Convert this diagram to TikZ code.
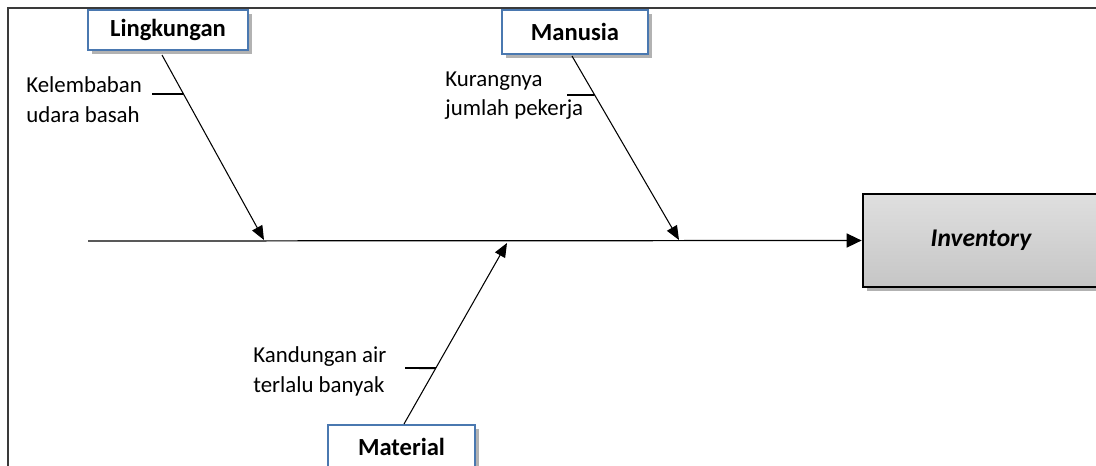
\documentclass[tikz,border=0pt]{standalone}
\usepackage{fontspec}
\setmainfont{Carlito}
\usetikzlibrary{arrows.meta,shadows,calc}
\tikzset{
  catbox/.style = {draw = boxblue, line width = 1.2pt, fill = white, font = \bfseries\fontsize{14}{16}\selectfont,
    drop shadow = {shadow xshift = 2pt, shadow yshift = -2pt, fill = black, opacity = 0.3}},
  causetxt/.style = {anchor = north west, inner sep = 0pt, align = left, font = \fontsize{13}{17}\selectfont},
  bone/.style = {line width = 0.6pt, -{Triangle[length = 8pt, width = 6.5pt]}},
  tick/.style = {line width = 1.1pt}
}
\begin{document}
\begin{tikzpicture}[x = 0.02cm, y = -0.02cm]
\definecolor{boxblue}{HTML}{4A78B0}
\definecolor{frame}{HTML}{3A3A3A}
\useasboundingbox (0, 0) rectangle (1096, 466);
\draw[frame, line width = 0.6pt] (1096, 8) -- (8, 8) -- (8, 466);
% effect box
\node[draw = black, line width = 1.6pt, top color = gray!25, bottom color = gray!45, minimum width = 4.72cm, minimum height = 1.86cm,
  drop shadow = {shadow xshift = 2pt, shadow yshift = -2pt, fill = black, opacity = 0.3},
  font = \bfseries\itshape\fontsize{14.5}{16}\selectfont] (inv) at (981, 240.5) {Inventory};
% spine
\coordinate (tail) at (88, 241);
\draw[line width = 0.7pt, -{Triangle[length = 8.5pt, width = 8pt]}] (tail) -- (inv.west);
% categories
\node[catbox, minimum width = 3.2cm, minimum height = 0.8cm] (ling) at (168, 30) {Lingkungan};
\node[catbox, minimum width = 2.92cm, minimum height = 0.88cm] (man) at (575, 32) {Manusia};
\node[catbox, minimum width = 2.94cm, minimum height = 0.88cm] (mat) at (401.5, 447) {Material};
% bones
\coordinate (lingA) at (162, 55); \coordinate (lingB) at (264, 240);
\coordinate (manA) at (572, 56); \coordinate (manB) at (679, 240);
\coordinate (matA) at (404, 424); \coordinate (matB) at (507, 243);
\draw[bone] (lingA) -- (lingB);
\draw[bone] (manA) -- (manB);
\draw[bone] (matA) -- (matB);
% causes
\node[causetxt] (kel) at (26, 76) {Kelembaban\\udara basah};
\node[causetxt] (kur) at (445, 71) {Kurangnya\\jumlah pekerja};
\node[causetxt] (kan) at (253, 346) {Kandungan air\\terlalu banyak};
\coordinate (kelT) at (152, 94); \coordinate (kurT) at (567, 95); \coordinate (kanT) at (405, 368);
\draw[tick] (kelT) -- ($(lingA)!0.211!(lingB)$);
\draw[tick] (kurT) -- ($(manA)!0.212!(manB)$);
\draw[tick] (kanT) -- ($(matA)!0.309!(matB)$);
\end{tikzpicture}
\end{document}
